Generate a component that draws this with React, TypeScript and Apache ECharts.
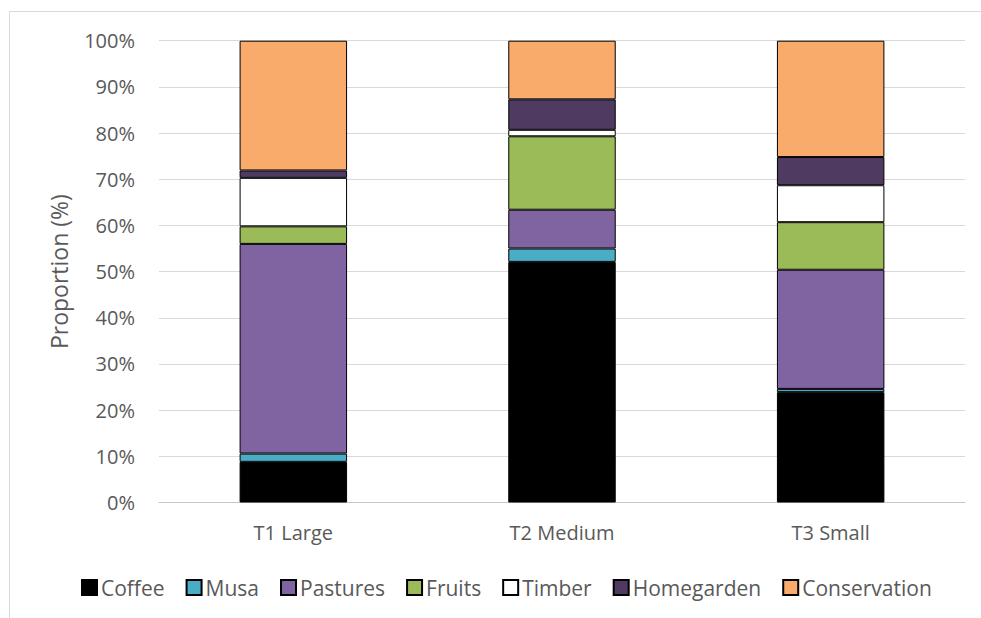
import React, { useEffect, useRef } from "react";
import * as echarts from "echarts";

// Land-use composition by farm type (percent of area)
const categories = ["T1 Large", "T2 Medium", "T3 Small"];
const landUses = ["Coffee", "Musa", "Pastures", "Fruits", "Timber", "Homegarden", "Conservation"];
const coffee = [8.8, 52.1, 23.9];
const musa = [1.8, 2.9, 0.7];
const pastures = [45.4, 8.4, 25.8];
const fruits = [3.8, 15.9, 10.3];
const timber = [10.5, 1.4, 8.0];
const homegarden = [1.6, 6.6, 6.1];
const conservation = [28.1, 12.7, 25.2];
const yTicks = [0, 10, 20, 30, 40, 50, 60, 70, 80, 90, 100];

const seriesValues = [coffee, musa, pastures, fruits, timber, homegarden, conservation];
const colors = ["#000000", "#4BACC6", "#8064A2", "#9BBB59", "#FFFFFF", "#4F3B62", "#F8AB6B"];

const FONT = "'Open Sans', sans-serif";
const TEXT = "#595959";

export default function App() {
  const ref = useRef<HTMLDivElement>(null);

  useEffect(() => {
    if (!ref.current) return;
    const chart = echarts.init(ref.current, null, { renderer: "svg" });
    chart.setOption({
      animation: false,
      textStyle: { fontFamily: FONT },
      graphic: [
        {
          type: "rect",
          silent: true,
          shape: { x: 9.5, y: 11.5, width: 1200, height: 1000 },
          style: { fill: "none", stroke: "#d9d9d9", lineWidth: 1 },
        },
      ],
      grid: { left: 159, right: 16, top: 40.7, bottom: 115.5, containLabel: false },
      legend: {
        data: landUses,
        icon: "rect",
        left: 81,
        top: 577,
        padding: 0,
        itemWidth: 15,
        itemHeight: 15,
        itemGap: 21,
        textStyle: { fontFamily: FONT, fontSize: 21, color: TEXT, padding: [0, 0, 0, -1] },
      },
      xAxis: {
        type: "category",
        data: categories,
        axisTick: { show: false },
        axisLine: { show: true, lineStyle: { color: "#c6c6c6", width: 1 } },
        axisLabel: { fontFamily: FONT, fontSize: 20, color: TEXT, margin: 20 },
      },
      yAxis: {
        type: "value",
        min: yTicks[0],
        max: yTicks[yTicks.length - 1],
        interval: 10,
        name: "Proportion (%)",
        nameLocation: "middle",
        nameGap: 89,
        nameTextStyle: { fontFamily: FONT, fontSize: 23, color: TEXT },
        axisLine: { show: false },
        axisTick: { show: false },
        axisLabel: { fontFamily: FONT, fontSize: 20, color: TEXT, margin: 24, formatter: "{value}%" },
        splitLine: { lineStyle: { color: "#d9d9d9", width: 1 } },
      },
      series: landUses.map((name, i) => ({
        name,
        type: "bar",
        stack: "total",
        barWidth: "40%",
        data: seriesValues[i],
        itemStyle: { color: colors[i], borderColor: "#000000", borderWidth: 1 },
      })),
    });
    return () => chart.dispose();
  }, []);

  return (
    <div
      ref={ref}
      style={{ position: "absolute", left: 0, top: 0, width: 981, height: 618, background: "#ffffff" }}
    />
  );
}
